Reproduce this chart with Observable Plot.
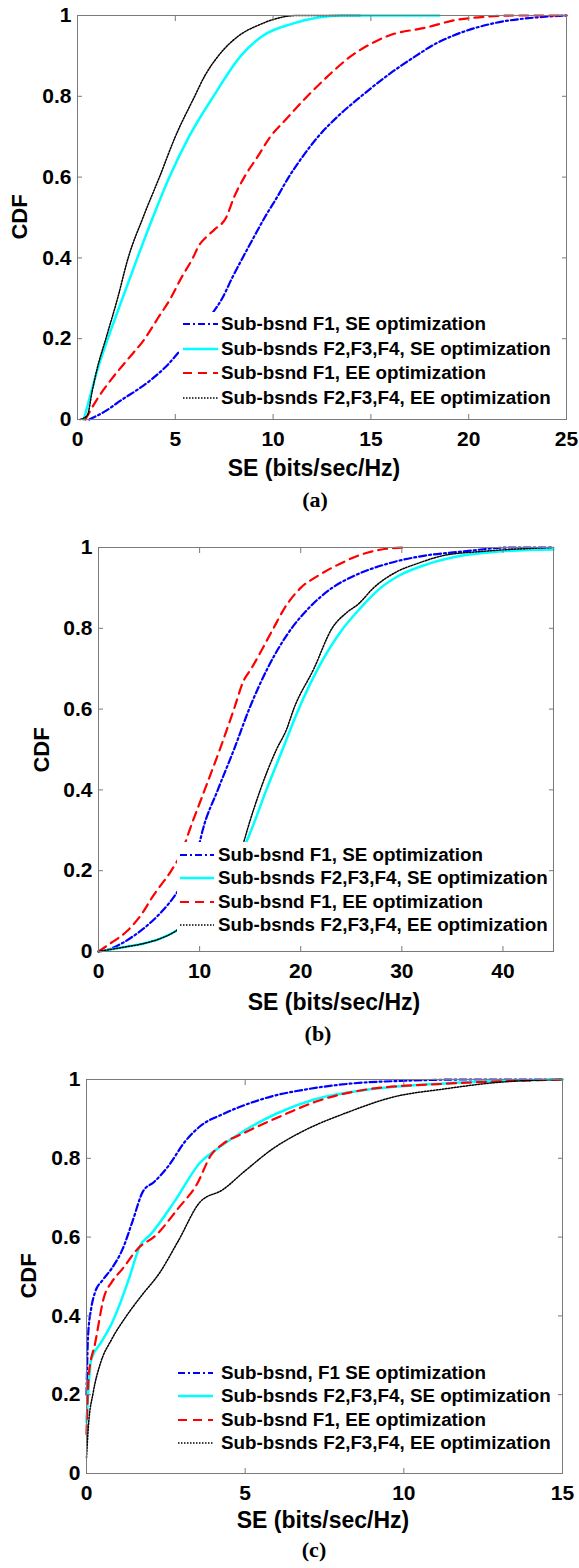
<!DOCTYPE html>
<html>
<head>
<meta charset="utf-8">
<script src="https://cdn.jsdelivr.net/npm/d3@7"></script>
<script src="https://cdn.jsdelivr.net/npm/@observablehq/plot@0.6"></script>
<style>
  html, body { margin: 0; padding: 0; background: #fff; }
  #page { position: relative; width: 579px; height: 1568px; overflow: hidden; background: #fff;
          font-family: "Liberation Sans", Arial, sans-serif; font-weight: bold; color: #000; }
  .lbl { position: absolute; white-space: nowrap; transform: translate(-50%, -50%); line-height: 1; }
  .ylbl { transform: translate(-50%, -50%) rotate(-90deg); }
  .cap { font-family: "Liberation Serif", "Times New Roman", serif; }
  .legend { position: absolute; background: #fff; }
  .row { position: absolute; left: 0; height: 22px; display: flex; align-items: center; white-space: nowrap; }
  .row svg { display: block; }
</style>
</head>
<body>
<div id="page"></div>
<script>
// Tick values
const yTicks = [0, 0.2, 0.4, 0.6, 0.8, 1];
const xTicksA = [0, 5, 10, 15, 20, 25];
const xTicksB = [0, 10, 20, 30, 40];
const xTicksC = [0, 5, 10, 15];

// Legend entries
const legendAB = ["Sub-bsnd F1, SE optimization", "Sub-bsnds F2,F3,F4, SE optimization",
                  "Sub-bsnd F1, EE optimization", "Sub-bsnds F2,F3,F4, EE optimization"];
const legendC = ["Sub-bsnd, F1 SE optimization", "Sub-bsnds F2,F3,F4, SE optimization",
                 "Sub-bsnd F1, EE optimization", "Sub-bsnds F2,F3,F4, EE optimization"];

// (a) CDF points [SE, CDF]
const aF1SE = [[0.6,0],[1.4,0.02],[2.3,0.05],[3.1,0.075],[3.8,0.1],[4.5,0.13],[5.15,0.165],[5.9,0.21],[6.93,0.265],[7.4,0.3],[7.9,0.35],[8.44,0.4],[9.0,0.45],[9.57,0.5],[10.2,0.55],[10.8,0.6],[11.5,0.65],[12.3,0.7],[13.3,0.75],[14.5,0.8],[15.8,0.85],[17.3,0.9],[18.3,0.93],[19.2,0.95],[21.2,0.98],[23.4,0.995],[25,1]];
const aF234SE = [[0.32,0],[0.6,0.05],[1.0,0.12],[1.55,0.2],[2.3,0.3],[3.06,0.4],[3.85,0.5],[4.7,0.6],[5.7,0.7],[6.95,0.8],[8.35,0.9],[9.48,0.95],[11.0,0.98],[12.3,0.995],[13.5,1],[18.5,1]];
const aF1EE = [[0.4,0],[1.0,0.05],[1.74,0.1],[2.59,0.15],[3.44,0.2],[4.1,0.25],[4.76,0.3],[5.3,0.35],[5.9,0.4],[6.2,0.43],[6.55,0.45],[7.0,0.47],[7.6,0.5],[8.0,0.55],[8.53,0.6],[9.2,0.65],[9.86,0.7],[10.6,0.74],[11.75,0.8],[12.8,0.85],[14.0,0.9],[15.0,0.93],[15.9,0.95],[17.8,0.97],[19.5,0.99],[22.5,1],[25,1]];
const aF234EE = [[0.13,0],[0.5,0.01],[0.75,0.07],[1.0,0.125],[1.45,0.2],[2.05,0.3],[2.59,0.4],[3.35,0.5],[4.19,0.6],[5.0,0.7],[5.99,0.8],[6.5,0.85],[7.2,0.9],[8.25,0.95],[9.3,0.977],[10.0,0.99],[11.2,1],[14.5,1]];

// (b) CDF points [SE, CDF]
const bF1SE = [[0,0],[1,0.005],[2.3,0.02],[4.1,0.05],[5.3,0.075],[6.3,0.1],[7.0,0.12],[7.6,0.14],[8.5,0.18],[9.3,0.23],[10.0,0.27],[10.3,0.3],[11.8,0.4],[13.4,0.5],[14.9,0.6],[16.7,0.7],[19.1,0.8],[20.8,0.85],[23.1,0.9],[25.3,0.93],[28.6,0.96],[32.3,0.98],[36,0.99],[40.7,1],[45,1]];
const bF234SE = [[0,0],[2.3,0.01],[4.5,0.02],[5.9,0.03],[7.6,0.05],[9.5,0.09],[11.5,0.15],[13.2,0.22],[14.6,0.27],[15.1,0.3],[16.6,0.4],[18.2,0.5],[19.8,0.6],[21.7,0.7],[24.2,0.8],[25.9,0.85],[27.9,0.9],[29.7,0.93],[32.7,0.96],[36,0.98],[39.6,0.99],[45,0.995]];
const bF1EE = [[0,0],[1.17,0.02],[2.8,0.05],[4.47,0.1],[5.2,0.13],[5.75,0.15],[7.2,0.2],[8.3,0.25],[9.0,0.3],[10.5,0.4],[12.0,0.5],[13.4,0.6],[14.35,0.67],[15.1,0.7],[17.3,0.8],[18.4,0.85],[20.0,0.9],[21.7,0.93],[23.9,0.96],[25.7,0.98],[28,0.995],[30.5,1]];
const bF234EE = [[0,0],[2.3,0.01],[4.5,0.02],[5.9,0.03],[7.6,0.05],[9.5,0.09],[11.5,0.15],[13.0,0.22],[14.35,0.27],[14.7,0.3],[16.0,0.4],[17.6,0.5],[18.6,0.55],[19.3,0.6],[21.3,0.7],[23.1,0.8],[24.6,0.84],[25.7,0.86],[27.2,0.9],[29.5,0.94],[31.5,0.96],[34.1,0.98],[37.8,0.99],[45,1]];

// (c) CDF points [SE, CDF]
const cF1SE = [[0,0.2],[0.05,0.35],[0.15,0.42],[0.27,0.46],[0.5,0.49],[0.79,0.52],[1.14,0.57],[1.45,0.64],[1.78,0.716],[2.13,0.74],[2.54,0.776],[3.12,0.844],[3.59,0.882],[4.29,0.912],[4.98,0.935],[5.92,0.959],[6.85,0.974],[8.24,0.989],[10.1,0.997],[12,1],[15,1]];
const cF234SE = [[0,0.13],[0.15,0.29],[0.44,0.33],[0.79,0.38],[1.05,0.43],[1.32,0.49],[1.7,0.58],[2.0,0.605],[2.77,0.69],[3.59,0.79],[4.05,0.82],[4.87,0.865],[6.03,0.915],[7.2,0.95],[8.94,0.975],[11.27,0.99],[13,0.996],[15,1]];
const cF1EE = [[0,0.1],[0.07,0.25],[0.27,0.33],[0.56,0.45],[0.79,0.485],[1.14,0.52],[1.61,0.57],[2.19,0.605],[2.89,0.673],[3.47,0.733],[3.94,0.81],[4.29,0.836],[4.98,0.865],[6.15,0.908],[7.31,0.946],[8.94,0.976],[11.27,0.989],[13.6,0.997],[15,1]];
const cF234EE = [[0,0.04],[0.06,0.12],[0.21,0.205],[0.44,0.28],[0.79,0.34],[1.26,0.4],[1.72,0.45],[2.31,0.51],[2.89,0.59],[3.59,0.69],[4.29,0.72],[4.98,0.767],[5.92,0.827],[6.85,0.87],[8.24,0.917],[9.64,0.955],[11.27,0.976],[13,0.993],[15,1]];

// Line styles, in legend order
const styles = [
  {stroke: "#0000ff", width: 2.2, dash: "7,3,2,3"},
  {stroke: "#00ffff", width: 2.5, dash: null},
  {stroke: "#ff0000", width: 2.2, dash: "9,6"},
  {stroke: "#000000", width: 1.5, dash: "1.5,1.5"}
];
const frameColor = "#7a7a7a";
const W = 579;

const panels = [
  {xDomain: [0, 25], xTicks: xTicksA, series: [aF1SE, aF234SE, aF1EE, aF234EE], labels: legendAB,
   frame: {left: 77, right: 566, top: 15, bottom: 419},
   legend: {left: 179, top: 312, right: 560, bottom: 413, rows: [324, 348.5, 373, 397.5], sample: [183, 218], text: 221},
   yLabel: [20, 217], xLabel: [314, 468], caption: [315, 500, "(a)"]},
  {xDomain: [0, 45], xTicks: xTicksB, series: [bF1SE, bF234SE, bF1EE, bF234EE], labels: legendAB,
   frame: {left: 98, right: 553, top: 547, bottom: 951},
   legend: {left: 177, top: 842, right: 547, bottom: 945, rows: [855, 878.3, 901.7, 925], sample: [180, 214], text: 218},
   yLabel: [42, 750], xLabel: [334, 1002], caption: [318, 1034, "(b)"]},
  {xDomain: [0, 15], xTicks: xTicksC, series: [cF1SE, cF234SE, cF1EE, cF234EE], labels: legendC,
   frame: {left: 86, right: 562, top: 1079, bottom: 1473},
   legend: {left: 175, top: 1358, right: 556, bottom: 1466, rows: [1373, 1396, 1419.5, 1443], sample: [178, 213], text: 221},
   yLabel: [29, 1276], xLabel: [323, 1520], caption: [314, 1550, "(c)"]}
];

const page = document.getElementById("page");

function addLabel(x, y, text, cls, size) {
  const el = document.createElement("div");
  el.className = "lbl " + cls;
  el.style.left = x + "px";
  el.style.top = y + "px";
  el.style.fontSize = size + "px";
  el.textContent = text;
  page.appendChild(el);
}

for (const p of panels) {
  const f = p.frame;
  const MT = 20, MB = 40;
  const svg = Plot.plot({
    width: W,
    height: (f.bottom - f.top) + MT + MB,
    marginLeft: f.left, marginRight: W - f.right, marginTop: MT, marginBottom: MB,
    x: {domain: p.xDomain},
    y: {domain: [0, 1]},
    style: {fontFamily: '"Liberation Sans", Arial, sans-serif', fontSize: "21px", fontWeight: "bold",
            color: "#000", background: "transparent", overflow: "visible"},
    marks: [
      ...p.series.map((s, i) => Plot.line(s, {
        x: d => d[0], y: d => d[1], curve: "monotone-x",
        stroke: styles[i].stroke, strokeWidth: styles[i].width, strokeDasharray: styles[i].dash
      })),
      Plot.frame({stroke: frameColor, strokeWidth: 1}),
      // inward ticks on all four sides
      Plot.axisX(p.xTicks, {anchor: "bottom", tickSize: 5, dy: -5, tickFormat: () => "", stroke: frameColor, label: null}),
      Plot.axisX(p.xTicks, {anchor: "top", tickSize: 5, dy: 5, tickFormat: () => "", stroke: frameColor, label: null}),
      Plot.axisY(yTicks, {anchor: "left", tickSize: 5, dx: 5, tickFormat: () => "", stroke: frameColor, label: null}),
      Plot.axisY(yTicks, {anchor: "right", tickSize: 5, dx: -5, tickFormat: () => "", stroke: frameColor, label: null}),
      // tick labels
      Plot.axisX(p.xTicks, {anchor: "bottom", tickSize: 0, tickPadding: 12, fontSize: 21, label: null, tickFormat: d => String(d)}),
      Plot.axisY(yTicks, {anchor: "left", tickSize: 0, tickPadding: 6, fontSize: 21, label: null, tickFormat: d => String(d)})
    ]
  });
  svg.style.position = "absolute";
  svg.style.left = "0px";
  svg.style.top = (f.top - MT) + "px";
  page.appendChild(svg);

  // legend box with white fill sitting over the curves
  const L = p.legend;
  const box = document.createElement("div");
  box.className = "legend";
  box.style.left = L.left + "px";
  box.style.top = L.top + "px";
  box.style.width = (L.right - L.left) + "px";
  box.style.height = (L.bottom - L.top) + "px";
  L.rows.forEach((ry, i) => {
    const row = document.createElement("div");
    row.className = "row";
    row.style.top = (ry - L.top - 11) + "px";
    row.style.fontSize = "18.8px";
    const sw = L.sample[1] - L.sample[0];
    const ns = "http://www.w3.org/2000/svg";
    const s = document.createElementNS(ns, "svg");
    s.setAttribute("width", sw);
    s.setAttribute("height", 22);
    s.style.marginLeft = (L.sample[0] - L.left) + "px";
    const ln = document.createElementNS(ns, "line");
    ln.setAttribute("x1", 0); ln.setAttribute("x2", sw);
    ln.setAttribute("y1", 11); ln.setAttribute("y2", 11);
    ln.setAttribute("stroke", styles[i].stroke);
    ln.setAttribute("stroke-width", styles[i].width);
    if (styles[i].dash) ln.setAttribute("stroke-dasharray", styles[i].dash);
    s.appendChild(ln);
    row.appendChild(s);
    const t = document.createElement("span");
    t.style.marginLeft = (L.text - L.sample[1]) + "px";
    t.textContent = p.labels[i];
    row.appendChild(t);
    box.appendChild(row);
  });
  page.appendChild(box);

  addLabel(p.yLabel[0], p.yLabel[1], "CDF", "ylbl", 22);
  addLabel(p.xLabel[0], p.xLabel[1], "SE (bits/sec/Hz)", "", 23);
  addLabel(p.caption[0], p.caption[1], p.caption[2], "cap", 22);
}
</script>
</body>
</html>
